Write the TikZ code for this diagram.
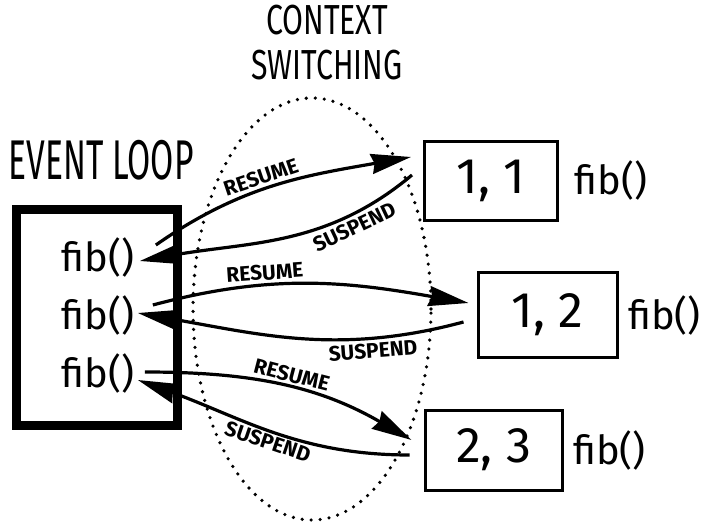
\documentclass[tikz,border=0pt]{standalone}
\usepackage{fontspec}
\setmainfont{Fira Sans}
\newfontfamily\handfont[FakeStretch=0.72]{Fira Sans}
\newfontfamily\tallfont[FakeStretch=0.6]{Fira Sans}
\usetikzlibrary{shapes,arrows.meta,positioning}

\begin{document}
\begin{tikzpicture}[x=1pt, y=1pt,
    heading/.style={font=\handfont\fontsize{42}{45}\selectfont, align=center},
    fibtext/.style={font=\fontsize{40}{40}\selectfont},
    numbox/.style={draw, line width=3pt, font=\fontsize{50}{50}\selectfont},
    flow/.style={line width=3.2pt, -{Stealth[length=40pt, width=20pt, inset=3pt]}},
    flowlabel/.style={font=\bfseries\fontsize{21}{21}\selectfont, sloped}]
    \useasboundingbox (0,0) rectangle (708,522);

    \node[heading] (ctx) at (327,479) {CONTEXT\\SWITCHING};
    \node[heading, font=\tallfont\fontsize{56}{56}\selectfont] (looptitle) at (101,362) {EVENT LOOP};

    % event loop
    \node[draw, line width=9pt, minimum width=161pt, minimum height=215pt] (evloop) at (96.5,204.5) {};
    \node[fibtext] (fa) at (98,264) {fib()};
    \node[fibtext] (fb) at (98,207) {fib()};
    \node[fibtext] (fc) at (98,149) {fib()};

    % switching zone
    \node[draw, ellipse, line width=3.6pt, line cap=round, dash pattern=on 0pt off 9pt,
          minimum width=238pt, minimum height=422pt] (zone) at (312,213) {};

    % generators
    \node[numbox, minimum width=133pt, minimum height=79pt] (b1) at (491,341) {1, 1};
    \node[numbox, minimum width=139pt, minimum height=84pt] (b2) at (547.5,207) {1, 2};
    \node[numbox, minimum width=137pt, minimum height=80pt] (b3) at (493.5,72) {2, 3};
    \node[fibtext, right=12pt of b1] (fr1) {fib()};
    \node[fibtext, right=6pt of b2] (fr2) {fib()};
    \node[fibtext, right=6pt of b3] (fr3) {fib()};

    \draw[flow] ([shift={(18,13)}]fa.east) to[out=35, in=190]
        node[flowlabel, pos=0.45, above] {RESUME} ([shift={(-12,24)}]b1.west);
    \draw[flow] ([shift={(-11,6)}]b1.west) to[out=220, in=10]
        node[flowlabel, pos=0.25, below] {SUSPEND} ([shift={(2,-3)}]fa.east);
    \draw[flow] ([shift={(15,10)}]fb.east) to[out=15, in=170]
        node[flowlabel, pos=0.35, above] {RESUME} ([shift={(-8,12)}]b2.west);
    \draw[flow] ([shift={(-13,-7)}]b2.west) to[out=195, in=-10]
        node[flowlabel, pos=0.27, below] {SUSPEND} ([shift={(0,2)}]fb.east);
    \draw[flow] ([shift={(7,1)}]fc.east) to[out=0, in=150]
        node[flowlabel, pos=0.52, above] {RESUME} ([shift={(-12,10)}]b3.west);
    \draw[flow] ([shift={(-14,-5)}]b3.west) to[out=180, in=-20]
        node[flowlabel, pos=0.5, below=-2pt] {SUSPEND} ([shift={(0,-7)}]fc.east);
\end{tikzpicture}
\end{document}
